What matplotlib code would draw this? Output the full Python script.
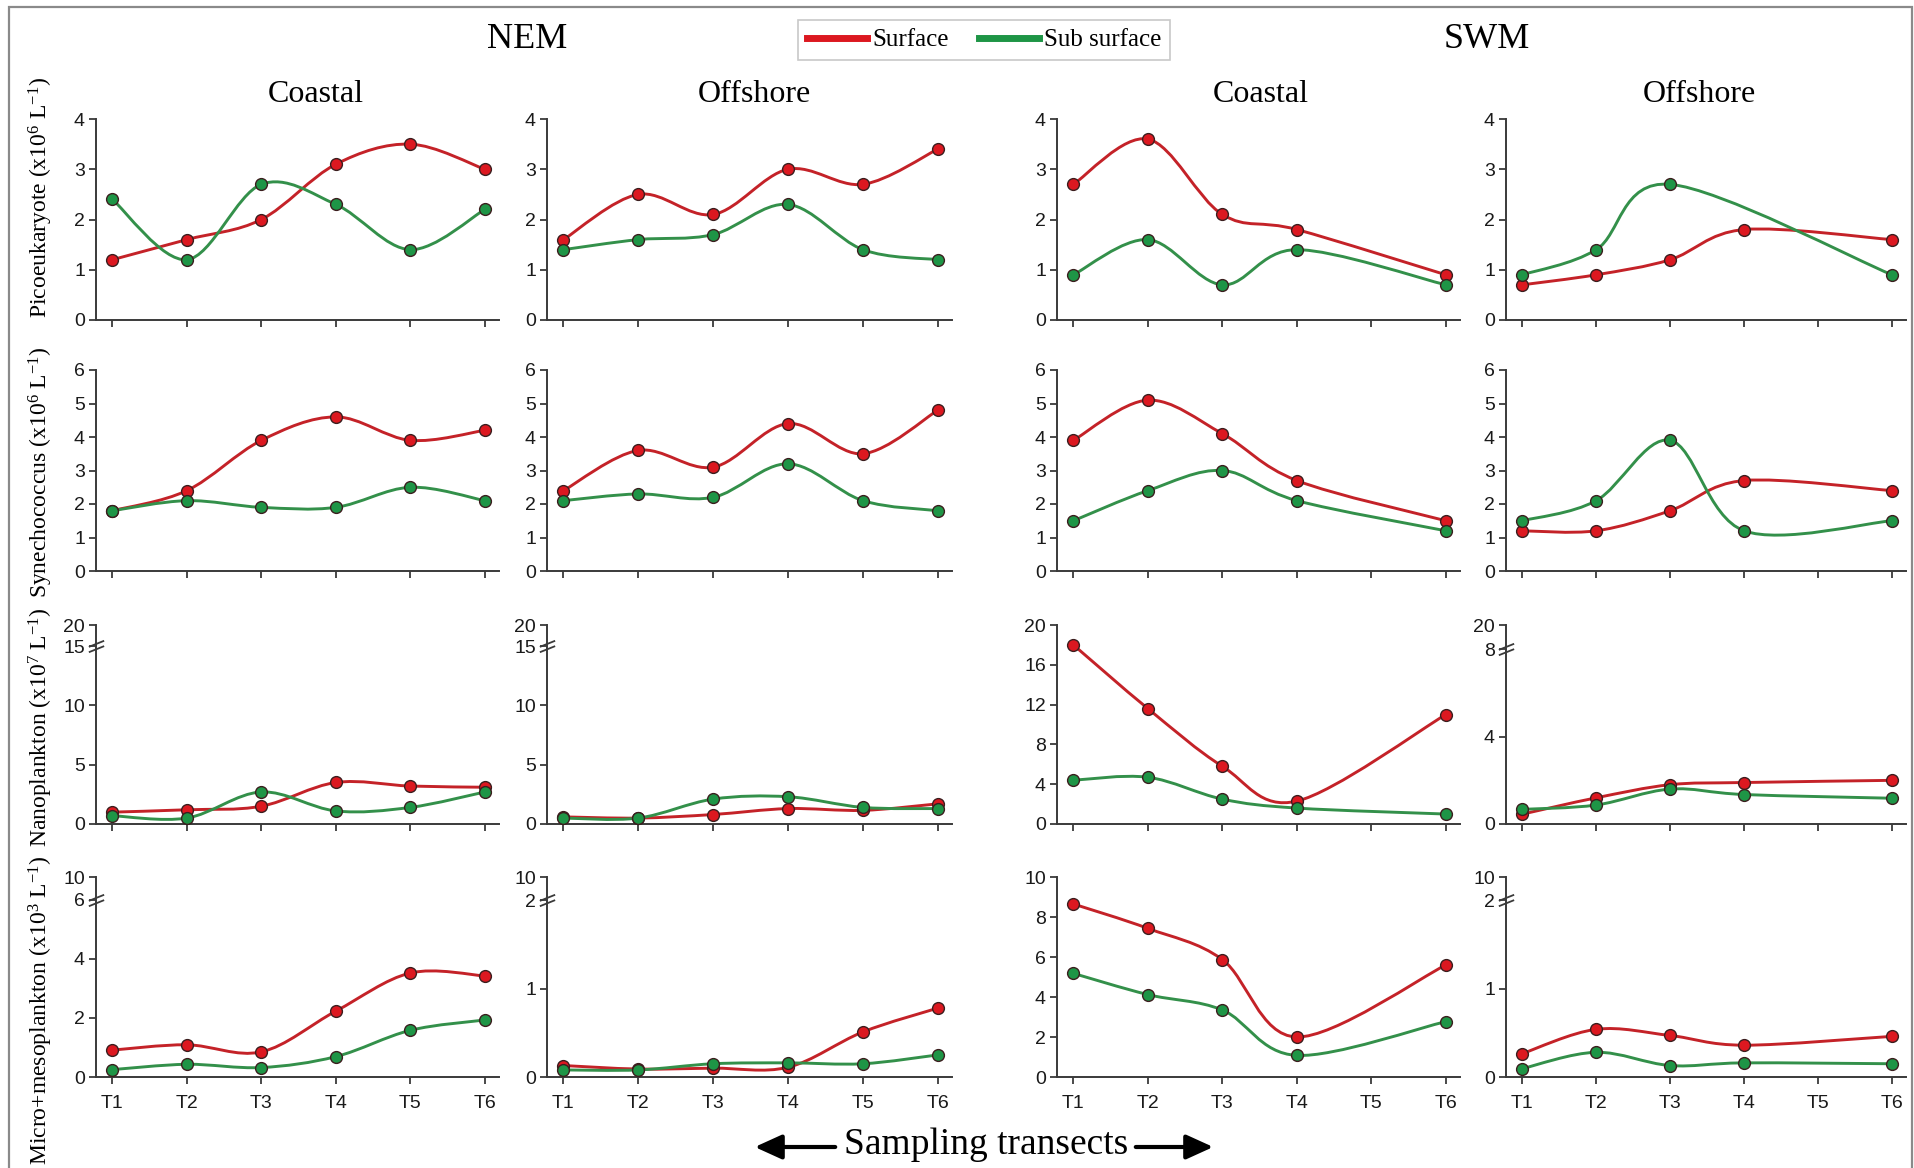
import numpy as np
import matplotlib
matplotlib.use('Agg')
import matplotlib.pyplot as plt
from matplotlib.path import Path
from matplotlib.patches import PathPatch, Rectangle, FancyArrowPatch
from matplotlib.lines import Line2D

plt.rcParams['font.family'] = ['Liberation Sans', 'DejaVu Sans']
plt.rcParams['mathtext.fontset'] = 'custom'
plt.rcParams['mathtext.rm'] = 'Liberation Serif'
plt.rcParams['mathtext.it'] = 'Liberation Serif:italic'

nan = np.nan
transects = ['T1', 'T2', 'T3', 'T4', 'T5', 'T6']
seasons = ['NEM', 'SWM']
regions = ['Coastal', 'Offshore', 'Coastal', 'Offshore']
series_names = ['Surface', 'Sub surface']
ylabels = [r'Picoeukaryote (x10$^{6}$ L$^{-1}$)',
           r'Synechococcus (x10$^{6}$ L$^{-1}$)',
           r'Nanoplankton (x10$^{7}$ L$^{-1}$)',
           r'Micro+mesoplankton (x10$^{3}$ L$^{-1}$)']

# ---- Picoeukaryote ----
pico_nem_coastal_surf = [1.2, 1.6, 2.0, 3.1, 3.5, 3.0]
pico_nem_coastal_sub = [2.4, 1.2, 2.7, 2.3, 1.4, 2.2]
pico_nem_offshore_surf = [1.6, 2.5, 2.1, 3.0, 2.7, 3.4]
pico_nem_offshore_sub = [1.4, 1.6, 1.7, 2.3, 1.4, 1.2]
pico_swm_coastal_surf = [2.7, 3.6, 2.1, 1.8, nan, 0.9]
pico_swm_coastal_sub = [0.9, 1.6, 0.7, 1.4, nan, 0.7]
pico_swm_offshore_surf = [0.7, 0.9, 1.2, 1.8, nan, 1.6]
pico_swm_offshore_sub = [0.9, 1.4, 2.7, nan, nan, 0.9]

# ---- Synechococcus ----
syn_nem_coastal_surf = [1.8, 2.4, 3.9, 4.6, 3.9, 4.2]
syn_nem_coastal_sub = [1.8, 2.1, 1.9, 1.9, 2.5, 2.1]
syn_nem_offshore_surf = [2.4, 3.6, 3.1, 4.4, 3.5, 4.8]
syn_nem_offshore_sub = [2.1, 2.3, 2.2, 3.2, 2.1, 1.8]
syn_swm_coastal_surf = [3.9, 5.1, 4.1, 2.7, nan, 1.5]
syn_swm_coastal_sub = [1.5, 2.4, 3.0, 2.1, nan, 1.2]
syn_swm_offshore_surf = [1.2, 1.2, 1.8, 2.7, nan, 2.4]
syn_swm_offshore_sub = [1.5, 2.1, 3.9, 1.2, nan, 1.5]

# ---- Nanoplankton ----
nano_nem_coastal_surf = [1.0, 1.2, 1.5, 3.5, 3.2, 3.1]
nano_nem_coastal_sub = [0.7, 0.5, 2.7, 1.1, 1.4, 2.7]
nano_nem_offshore_surf = [0.6, 0.5, 0.8, 1.3, 1.15, 1.7]
nano_nem_offshore_sub = [0.5, 0.5, 2.1, 2.3, 1.4, 1.3]
nano_swm_coastal_surf = [18.0, 11.6, 5.8, 2.3, nan, 11.0]
nano_swm_coastal_sub = [4.4, 4.7, 2.5, 1.6, nan, 1.0]
nano_swm_offshore_surf = [0.45, 1.2, 1.8, 1.9, nan, 2.0]
nano_swm_offshore_sub = [0.67, 0.87, 1.6, 1.35, nan, 1.18]

# ---- Micro+mesoplankton ----
micro_nem_coastal_surf = [0.91, 1.09, 0.85, 2.23, 3.52, 3.42]
micro_nem_coastal_sub = [0.25, 0.43, 0.32, 0.69, 1.58, 1.93]
micro_nem_offshore_surf = [0.13, 0.09, 0.10, 0.11, 0.51, 0.78]
micro_nem_offshore_sub = [0.08, 0.08, 0.15, 0.16, 0.15, 0.25]
micro_swm_coastal_surf = [8.65, 7.43, 5.87, 2.0, nan, 5.6]
micro_swm_coastal_sub = [5.18, 4.12, 3.35, 1.08, nan, 2.77]
micro_swm_offshore_surf = [0.265, 0.54, 0.47, 0.36, nan, 0.46]
micro_swm_offshore_sub = [0.095, 0.28, 0.13, 0.16, nan, 0.15]

data = [
    [(pico_nem_coastal_surf, pico_nem_coastal_sub), (pico_nem_offshore_surf, pico_nem_offshore_sub),
     (pico_swm_coastal_surf, pico_swm_coastal_sub), (pico_swm_offshore_surf, pico_swm_offshore_sub)],
    [(syn_nem_coastal_surf, syn_nem_coastal_sub), (syn_nem_offshore_surf, syn_nem_offshore_sub),
     (syn_swm_coastal_surf, syn_swm_coastal_sub), (syn_swm_offshore_surf, syn_swm_offshore_sub)],
    [(nano_nem_coastal_surf, nano_nem_coastal_sub), (nano_nem_offshore_surf, nano_nem_offshore_sub),
     (nano_swm_coastal_surf, nano_swm_coastal_sub), (nano_swm_offshore_surf, nano_swm_offshore_sub)],
    [(micro_nem_coastal_surf, micro_nem_coastal_sub), (micro_nem_offshore_surf, micro_nem_offshore_sub),
     (micro_swm_coastal_surf, micro_swm_coastal_sub), (micro_swm_offshore_surf, micro_swm_offshore_sub)],
]

# y-axis specs: (ticks, break_value or None, compression factor above break)
yspec = [
    [([0, 1, 2, 3, 4], None, 1)] * 4,
    [([0, 1, 2, 3, 4, 5, 6], None, 1)] * 4,
    [([0, 5, 10, 15, 20], 15, 0.356), ([0, 5, 10, 15, 20], 15, 0.356),
     ([0, 4, 8, 12, 16, 20], None, 1), ([0, 4, 8, 20], 8, 0.093)],
    [([0, 2, 4, 6, 10], 6, 0.192), ([0, 1, 2, 10], 2, 0.033),
     ([0, 2, 4, 6, 8, 10], None, 1), ([0, 1, 2, 10], 2, 0.033)],
]

W, H = 1914, 1168
fig = plt.figure(figsize=(W / 100, H / 100), dpi=100)

rows_px = [(119, 320), (370, 571), (625, 824), (877, 1077)]
cols_px = [(96, 499), (547, 952), (1057, 1460), (1506, 1906)]

red_line, red_face = '#c42228', '#dc1820'
green_line, green_face = '#33904a', '#1e9546'
edge = '#3b1e1e'
spine_c = '#3a3a3a'


def smooth_path(xs, ys):
    pts = np.column_stack([xs, ys])
    n = len(pts)
    verts = [pts[0]]
    codes = [Path.MOVETO]
    for i in range(n - 1):
        p0 = pts[i - 1] if i > 0 else pts[i]
        p1, p2 = pts[i], pts[i + 1]
        p3 = pts[i + 2] if i + 2 < n else pts[i + 1]
        verts += [p1 + (p2 - p0) / 6.0, p2 - (p3 - p1) / 6.0, p2]
        codes += [Path.CURVE4] * 3
    return Path(verts, codes)


brk_marker = Path([(-1.0, -0.75), (1.0, 0.05), (-1.0, -0.05), (1.0, 0.75)],
                  [Path.MOVETO, Path.LINETO, Path.MOVETO, Path.LINETO])

x = np.arange(1, 7)
for r in range(4):
    top, bot = rows_px[r]
    for c in range(4):
        left, right = cols_px[c]
        ax = fig.add_axes([left / W, 1 - bot / H, (right - left) / W, (bot - top) / H])
        ticks, b, k = yspec[r][c]
        if b is not None:
            def fwd(y, b=b, k=k):
                y = np.asarray(y, dtype=float)
                return np.where(y <= b, y, b + (y - b) * k)

            def inv(y, b=b, k=k):
                y = np.asarray(y, dtype=float)
                return np.where(y <= b, y, b + (y - b) / k)
            ax.set_yscale('function', functions=(fwd, inv))
        ax.set_ylim(0, ticks[-1])
        ax.set_xlim(0.78, 6.19)
        ax.set_yticks(ticks)
        ax.set_yticklabels([str(t) for t in ticks])
        ax.set_xticks(x)
        if r == 3:
            ax.set_xticklabels(transects)
        else:
            ax.set_xticklabels([])
        for s in ['top', 'right']:
            ax.spines[s].set_visible(False)
        for s in ['left', 'bottom']:
            ax.spines[s].set_color(spine_c)
            ax.spines[s].set_linewidth(1.4)
        ax.tick_params(axis='both', direction='out', length=5, width=1.3, color=spine_c,
                       labelsize=14, labelcolor='#1a1a1a')
        ax.tick_params(axis='y', pad=3)
        ax.tick_params(axis='x', pad=8)
        ax.patch.set_visible(False)

        surf, sub = data[r][c]
        for vals, lc, fc in [(surf, red_line, red_face), (sub, green_line, green_face)]:
            v = np.asarray(vals, dtype=float)
            m = ~np.isnan(v)
            p = smooth_path(x[m].astype(float), v[m])
            ax.add_patch(PathPatch(p, facecolor='none', edgecolor=lc, lw=2.1,
                                   transform=ax.transData, zorder=2, capstyle='round'))
            ax.plot(x, v, 'o', ms=8.5, mfc=fc, mec=edge, mew=1.0, zorder=3, clip_on=False)

        if b is not None:
            ax.plot([0], [b], marker=brk_marker, ms=11, mew=1.3, color=spine_c,
                    transform=ax.get_yaxis_transform(), clip_on=False, zorder=5)

# Titles
serif = ['Liberation Serif', 'DejaVu Serif']
fig.text(527 / W, 1 - 39 / H, 'NEM', ha='center', va='center', fontsize=26, family=serif)
fig.text(1487 / W, 1 - 39 / H, 'SWM', ha='center', va='center', fontsize=26, family=serif)
for cx, t in zip([316, 754, 1261, 1699], regions):
    fig.text(cx / W, 1 - 94 / H, t, ha='center', va='center', fontsize=23, family=serif)

# y labels
for cy, lab in zip([198, 472, 727, 1010], ylabels):
    fig.text(41 / W, 1 - cy / H, lab, rotation=90, ha='center', va='center',
             fontsize=17, family=serif)

# x label with arrows
fig.text(986 / W, 1 - 1145 / H, 'Sampling transects', ha='center', va='center',
         fontsize=27, family=serif)
ay = 1168 - 1147
fig.add_artist(FancyArrowPatch((838, ay), (752, ay), transform=None,
               arrowstyle='-|>,head_length=11,head_width=5', lw=3, color='black',
               mutation_scale=1.5))
fig.add_artist(FancyArrowPatch((1133, ay), (1216, ay), transform=None,
               arrowstyle='-|>,head_length=11,head_width=5', lw=3, color='black',
               mutation_scale=1.5))

# Legend
handles = [Line2D([], [], color=red_face, lw=5), Line2D([], [], color=green_face, lw=5)]
leg = fig.legend(handles, series_names, loc='center', bbox_to_anchor=(984 / W, 1 - 40 / H),
                 ncol=2, frameon=True, fancybox=False, prop={'family': serif, 'size': 18},
                 handlelength=2.4, handletextpad=0.2, columnspacing=1.2, borderpad=0.35)
leg.get_frame().set_edgecolor('#bbbbbb')
leg.get_frame().set_linewidth(1.2)

# Outer frame
fig.add_artist(Rectangle((9 / W, -0.01), (1912 - 9) / W, 1 - 7 / H + 0.01,
                         transform=fig.transFigure, fill=False, ec='#8a8a8a', lw=1.6))

fig.savefig('out.png', dpi=100)
